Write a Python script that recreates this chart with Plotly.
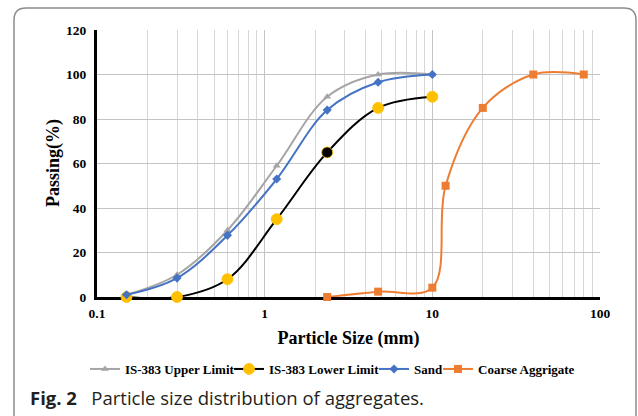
import plotly.graph_objects as go

sieve = [0.15, 0.3, 0.6, 1.18, 2.36, 4.75, 10]
upper = [1, 10, 30, 59, 90, 100, 100]
lower = [0, 0, 8, 35, 65, 85, 90]
sand = [1, 8.5, 27.7, 53, 84, 96.5, 100]
coarse_x = [2.36, 4.75, 10, 12, 20, 40, 80]
coarse_y = [0, 2.4, 4.2, 50, 85, 100, 100]
x_ticks = [0.1, 1, 10, 100]
x_labels = ["0.1", "1", "10", "100"]
y_ticks = [0, 20, 40, 60, 80, 100, 120]

SERIF = "Liberation Serif"
W, H = 638, 416
ML, MR, MT, MB = 97, 38, 30, 119
PW, PH = W - ML - MR, H - MT - MB

def px(x):
    return (x - ML) / PW

def py(y):
    return (H - MB - y) / PH

fig = go.Figure()
fig.add_trace(go.Scatter(
    x=sieve, y=upper, name="IS-383 Upper Limit", mode="lines+markers", cliponaxis=False,
    legend="legend",
    line=dict(color="#A5A5A5", width=2, shape="spline", smoothing=1),
    marker=dict(symbol="triangle-up", size=7, color="#A5A5A5")))
fig.add_trace(go.Scatter(
    x=sieve, y=lower, name="IS-383 Lower Limit", mode="lines+markers", cliponaxis=False,
    legend="legend2",
    line=dict(color="#000000", width=2, shape="spline", smoothing=1),
    marker=dict(symbol="circle", size=11,
                color=["#FFC000"] * 4 + ["#000000"] + ["#FFC000"] * 2,
                line=dict(width=0.8, color="#FFC000"))))
fig.add_trace(go.Scatter(
    x=sieve, y=sand, name="Sand", mode="lines+markers", cliponaxis=False,
    legend="legend3",
    line=dict(color="#4472C4", width=2, shape="spline", smoothing=1),
    marker=dict(symbol="diamond", size=7, color="#4472C4")))
fig.add_trace(go.Scatter(
    x=coarse_x, y=coarse_y, name="Coarse Aggrigate", mode="lines+markers", cliponaxis=False,
    legend="legend4",
    line=dict(color="#ED7D31", width=2, shape="spline", smoothing=1),
    marker=dict(symbol="square", size=8, color="#ED7D31")))

# figure frame (rounded box)
x0, x1 = px(14), px(636)
yt, yb = py(8), py(430)
dx, dy = 12 / PW, 12 / PH
path = (f"M {x0},{yb} L {x0},{yt - dy} Q {x0},{yt} {x0 + dx},{yt} "
        f"L {x1 - dx},{yt} Q {x1},{yt} {x1},{yt - dy} L {x1},{yb}")

def leg(xpix):
    return dict(orientation="h", x=px(xpix), xanchor="left", y=py(369), yanchor="middle",
                font=dict(family=SERIF, size=13, weight="bold"),
                itemwidth=30, bgcolor="rgba(0,0,0,0)", borderwidth=0)

fig.update_layout(
    width=W, height=H,
    margin=dict(l=ML, r=MR, t=MT, b=MB),
    paper_bgcolor="white", plot_bgcolor="white",
    font=dict(family=SERIF, color="#000000", size=12),
    showlegend=True,
    legend=leg(85), legend2=leg(229), legend3=leg(374), legend4=leg(438),
    shapes=[dict(type="path", xref="paper", yref="paper", path=path,
                 line=dict(color="#8c8c8c", width=1.5), layer="above")],
    annotations=[
        dict(text="<b>Fig. 2</b>&nbsp;&nbsp; Particle size distribution of aggregates.",
             xref="paper", yref="paper", x=px(28), y=py(397), xanchor="left", yanchor="middle",
             showarrow=False, font=dict(family="Open Sans", size=18.5, color="#231f20")),
        dict(text="Passing(%)", textangle=-90,
             xref="paper", yref="paper", x=px(53), y=py(163), xanchor="center", yanchor="middle",
             showarrow=False, font=dict(family=SERIF, size=18, weight="bold", color="#000000")),
    ],
)

fig.update_xaxes(
    type="log", range=[-1, 2],
    tickvals=x_ticks, ticktext=x_labels,
    tickfont=dict(family=SERIF, size=13.5, weight="bold"),
    showgrid=True, gridcolor="#c4c4c4", gridwidth=1,
    minor=dict(dtick="D1", showgrid=True, gridcolor="#d6d6d6", gridwidth=1, ticks=""),
    showline=True, linecolor="#000000", linewidth=3, layer="below traces",
    ticks="", ticklen=0, zeroline=False, ticklabelstandoff=2,
    title=dict(text="Particle Size (mm)", font=dict(family=SERIF, size=18, weight="bold"), standoff=12),
)
fig.update_yaxes(
    range=[0, 120], tickvals=y_ticks,
    tickfont=dict(family=SERIF, size=13.5, weight="bold"),
    showgrid=True, gridcolor="#c4c4c4", gridwidth=1,
    showline=True, linecolor="#000000", linewidth=3, layer="below traces",
    ticks="", zeroline=False, ticklabelstandoff=5,
)

fig.write_html("out.html")
